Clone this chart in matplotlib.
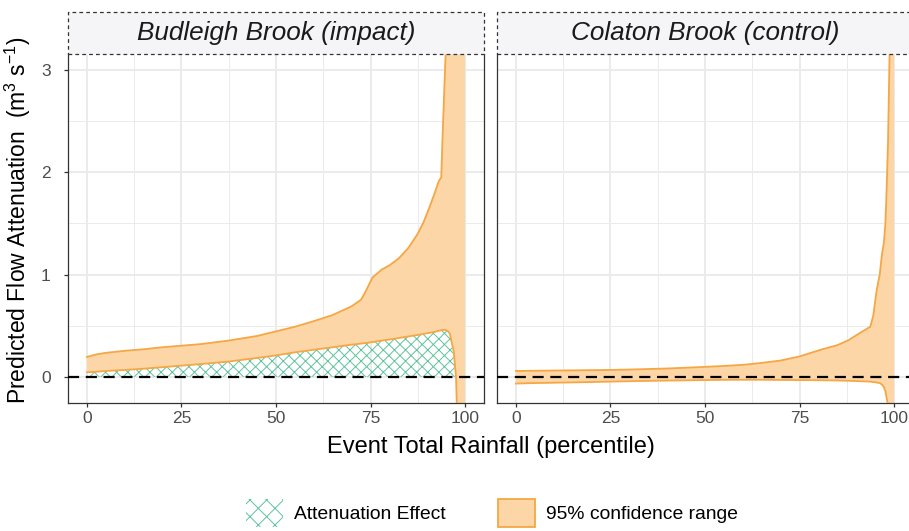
import numpy as np
import matplotlib
matplotlib.use("Agg")
import matplotlib.pyplot as plt
from matplotlib.patches import Patch, Rectangle

plt.rcParams['font.family'] = ['Liberation Sans', 'DejaVu Sans']
plt.rcParams['mathtext.fontset'] = 'custom'
plt.rcParams['mathtext.rm'] = 'Liberation Sans'
plt.rcParams['mathtext.it'] = 'Liberation Sans:italic'
plt.rcParams['hatch.linewidth'] = 0.7

# ---- data ----
panel_titles = ['Budleigh Brook (impact)', 'Colaton Brook (control)']

bud_pct = [0, 2.5, 5, 10, 15, 20, 25, 30, 37.5, 45, 50, 55, 60, 65, 70, 72.5, 73.5,
           75.5, 78, 80, 82.5, 85, 87.5, 89, 90.5, 92, 93, 93.7, 94, 94.5, 95, 95.5,
           96, 96.5, 97, 97.6, 98, 99, 100]
bud_upper = [0.195, 0.22, 0.235, 0.255, 0.27, 0.29, 0.305, 0.32, 0.355, 0.40, 0.445,
             0.49, 0.545, 0.605, 0.69, 0.755, 0.82, 0.97, 1.05, 1.09, 1.16, 1.26, 1.40,
             1.51, 1.65, 1.80, 1.91, 1.95, 2.3, 2.81, 3.3, 4.0, 5, 6, 7, 8, 9, 10, 12]
bud_lower = [0.045, 0.05, 0.058, 0.068, 0.08, 0.095, 0.11, 0.125, 0.15, 0.185, 0.21,
             0.24, 0.265, 0.29, 0.315, 0.325, 0.33, 0.34, 0.355, 0.365, 0.38, 0.395,
             0.41, 0.42, 0.43, 0.44, 0.45, 0.455, 0.46, 0.46, 0.455, 0.445, 0.42, 0.33,
             0.25, 0.0, -0.5, -2.0, -4.0]

col_pct = [0, 5, 10, 20, 25, 30, 40, 50, 55, 60, 62.5, 65, 70, 75, 78, 81, 85, 88, 91,
           93.7, 94.5, 95.4, 96.2, 96.8, 97.3, 97.7, 98.0, 98.4, 98.8, 99.2, 99.6, 100]
col_upper = [0.058, 0.06, 0.062, 0.066, 0.068, 0.072, 0.082, 0.098, 0.107, 0.118, 0.127,
             0.137, 0.16, 0.20, 0.235, 0.27, 0.31, 0.36, 0.43, 0.49, 0.60, 0.85, 1.0,
             1.2, 1.31, 1.5, 1.8, 2.3, 3.15, 4.5, 7, 10]
col_lower = [-0.065, -0.06, -0.057, -0.05, -0.046, -0.042, -0.036, -0.031, -0.029,
             -0.028, -0.028, -0.028, -0.03, -0.031, -0.032, -0.033, -0.035, -0.038,
             -0.042, -0.046, -0.05, -0.055, -0.06, -0.075, -0.1, -0.14, -0.2, -0.28,
             -0.45, -1.0, -2.0, -4.0]

x_ticks = [0, 25, 50, 75, 100]
y_ticks = [0, 1, 2, 3]

fill_col = '#FDD6A8'
line_col = '#F6A744'
hatch_col = '#5FC39E'
grid_col = '#EBEBEB'
border_col = '#333333'

W, H = 909, 531
fig = plt.figure(figsize=(W / 100, H / 100), dpi=100)


def fx(px):
    return px / W


def fy(py):
    return 1 - py / H


panel_left = [68, 497]
panel_w = 416
panel_top, panel_bot = 54, 403
strip_top = 12

series = [(bud_pct, bud_upper, bud_lower, True), (col_pct, col_upper, col_lower, False)]

for i, (pct, upper, lower, hatched) in enumerate(series):
    x = np.array(pct)
    up = np.array(upper)
    lo = np.array(lower)
    ax = fig.add_axes([fx(panel_left[i]), fy(panel_bot), panel_w / W,
                       (panel_bot - panel_top) / H])
    ax.set_xlim(-5, 105)
    ax.set_ylim(-0.255, 3.155)

    # grid
    ax.set_xticks(x_ticks)
    ax.set_xticks([12.5, 37.5, 62.5, 87.5], minor=True)
    ax.set_yticks(y_ticks)
    ax.set_yticks([0.5, 1.5, 2.5], minor=True)
    ax.grid(which='major', color=grid_col, lw=1.4)
    ax.grid(which='minor', color=grid_col, lw=0.7)
    ax.set_axisbelow(True)

    ax.fill_between(x, lo, up, color=fill_col, lw=0, zorder=2)
    if hatched:
        ax.fill_between(x, 0, lo, where=lo > 0, interpolate=True, facecolor='none',
                        edgecolor=hatch_col, hatch='xxx', lw=0, zorder=3)
    ax.plot(x, up, color=line_col, lw=1.3, zorder=4)
    ax.plot(x, lo, color=line_col, lw=1.3, zorder=4)
    ax.axhline(0, color='black', lw=1.6, dashes=(5, 3), zorder=5)

    for s in ['left', 'right', 'bottom']:
        ax.spines[s].set_color(border_col)
        ax.spines[s].set_linewidth(0.9)
    ax.spines['top'].set_visible(False)

    ax.tick_params(which='minor', length=0)
    ax.tick_params(which='major', length=3, width=0.9, color=border_col,
                   labelcolor='#4D4D4D', labelsize=12.5)
    ax.tick_params(axis='x', pad=2.5)
    ax.tick_params(axis='y', pad=9.5)
    ax.set_xticklabels([str(t) for t in x_ticks])
    if i == 0:
        ax.set_yticklabels([str(t) for t in y_ticks])
    else:
        ax.tick_params(axis='y', left=False, labelleft=False)

    # strip
    fig.patches.append(Rectangle((fx(panel_left[i]), fy(panel_top)), panel_w / W,
                                 (panel_top - strip_top) / H, transform=fig.transFigure,
                                 facecolor='#F5F5F7', edgecolor=border_col, lw=0.9,
                                 linestyle=(0, (3, 2.5)), zorder=0))
    fig.text(fx(panel_left[i] + panel_w / 2), fy((strip_top + panel_top) / 2),
             panel_titles[i], ha='center', va='center', fontsize=18.8,
             style='italic', color='#1A1A1A')

fig.text(fx(490.5), fy(447), 'Event Total Rainfall (percentile)', ha='center',
         va='center', fontsize=17)
fig.text(fx(18), fy(220), 'Predicted Flow Attenuation  (m$^{3}$ s$^{-1}$)',
         ha='center', va='center', rotation=90, fontsize=16.5)

handles = [Patch(facecolor='none', edgecolor=hatch_col, hatch='xx', lw=0,
                 label='Attenuation Effect'),
           Patch(facecolor=fill_col, edgecolor=line_col, lw=1.3,
                 label='95% confidence range')]
fig.legend(handles=handles, loc='center', bbox_to_anchor=(fx(492), fy(513)), ncol=2,
           frameon=False, fontsize=13.9, handlelength=1.9, handleheight=1.9,
           handletextpad=0.6, columnspacing=2.7, borderpad=0, borderaxespad=0)

fig.savefig('out.png', dpi=100)
